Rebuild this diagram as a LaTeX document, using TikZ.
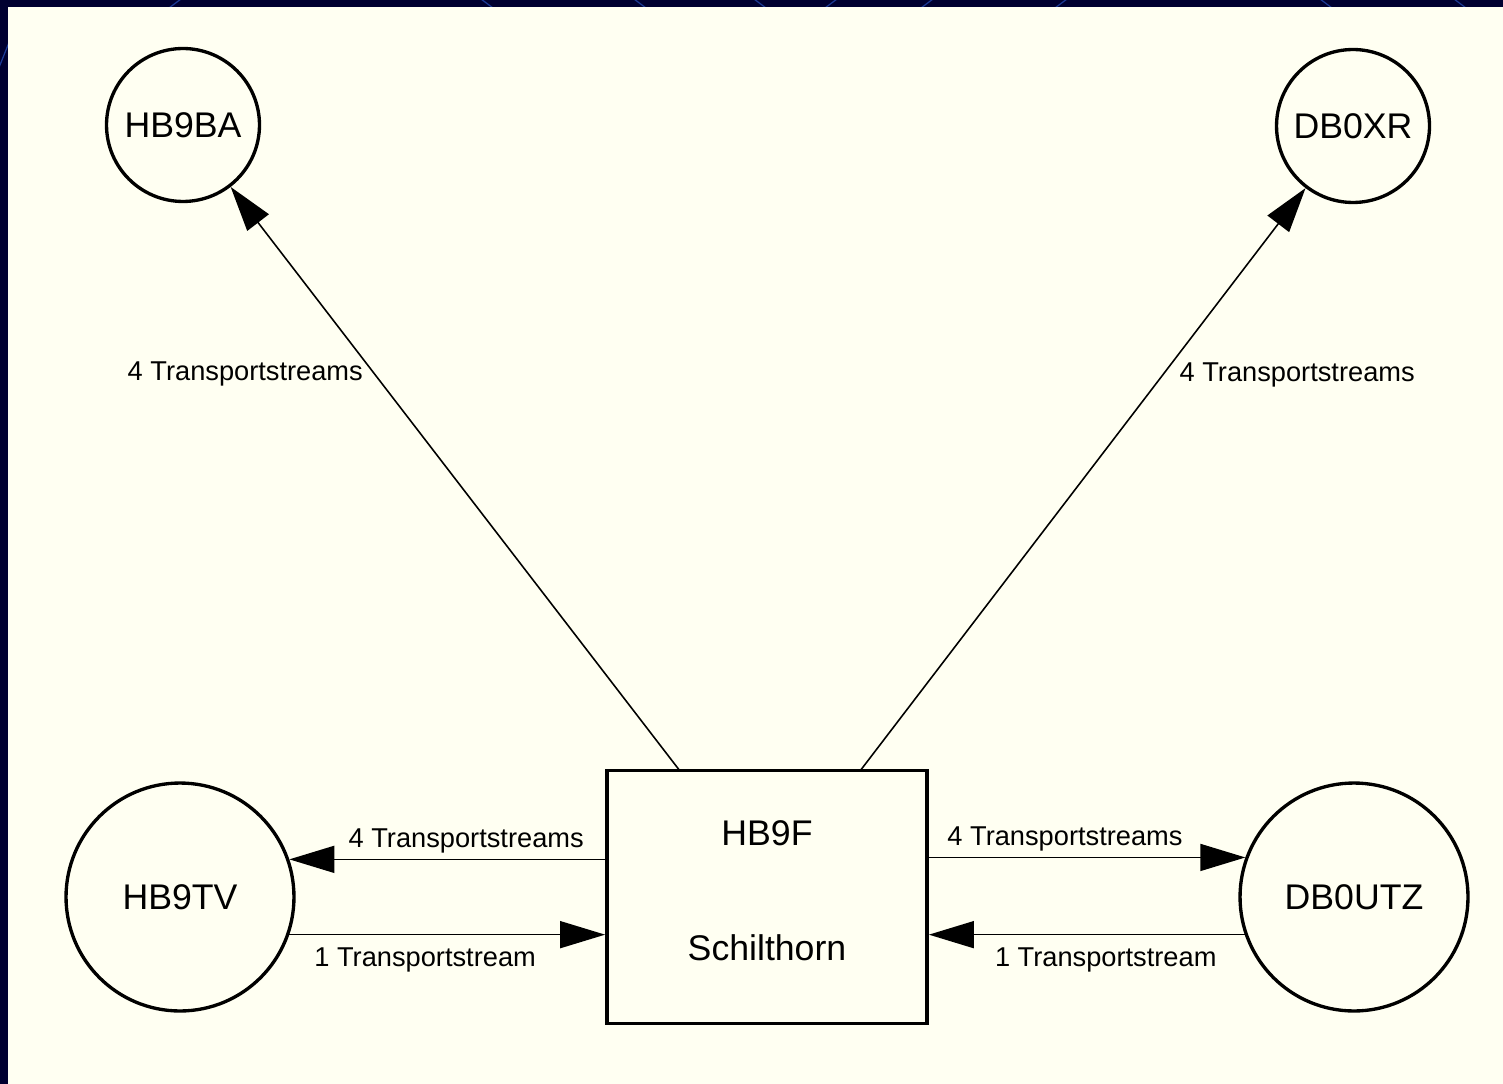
\documentclass[tikz,border=0pt]{standalone}
\usepackage{fontspec}
\setmainfont{Liberation Sans}
\usetikzlibrary{arrows.meta}
\definecolor{navy}{RGB}{0,0,48}
\definecolor{cream}{RGB}{255,255,242}
\definecolor{deco}{RGB}{28,58,150}

\begin{document}
\begin{tikzpicture}[x=0.02cm,y=-0.02cm,
		station/.style={circle,draw,line width=1.9pt,inner sep=0pt,font=\fontsize{20.3}{24}\selectfont},
		hub/.style={draw,line width=2.2pt,align=center,minimum width=6.4cm,minimum height=5.06cm,font=\fontsize{20.3}{24}\selectfont},
		link/.style={line width=0.9pt,-{Triangle[length=0.9cm,width=0.54cm]}},
		lbl/.style={font=\fontsize{15.5}{18}\selectfont}]
			\useasboundingbox (0,0) rectangle (1503,1084);
			\fill[navy] (0,0) rectangle (1503,1084);
			\foreach \x/\d in {173/1,489/-1,642/-1,762/-1,829/1,925/1,1059/1,1328/-1,1462/-1}
			\draw[deco,line width=0.7pt] (\x-\d*12,14) -- (\x+\d*12,-4);
			\draw[deco,line width=0.7pt] (-2,70) -- (10,40);
			\fill[cream] (8,7) rectangle (1503,1084);

			\node[station,minimum size=3.06cm] (ba) at (183,125) {HB9BA};
			\node[station,minimum size=3.06cm] (xr) at (1353,126) {DB0XR};
			\node[station,minimum size=4.56cm] (tv) at (180,897) {HB9TV};
			\node[station,minimum size=4.56cm] (utz) at (1354,897) {DB0UTZ};
			\node[hub] (f) at (767,897) {HB9F\\[1.45cm]Schilthorn\strut};

			\coordinate (fl) at (680,771);
			\coordinate (fr) at (860,771);

			\draw[link] (fl) -- node[lbl,pos=0.68,left=1mm]{4 Transportstreams} (ba);
			\draw[link] (fr) -- node[lbl,pos=0.68,right=2mm]{4 Transportstreams} (xr);

			\draw[link] (f.west |- tv.19.6) -- node[lbl,above,pos=0.44]{4 Transportstreams} (tv.19.6);
			\draw[link] (tv.-19.1) -- node[lbl,below=1.2mm,pos=0.43]{1 Transportstream} (f.west |- tv.-19.1);
			\draw[link] (f.east |- utz.160.4) -- node[lbl,above,pos=0.43]{4 Transportstreams} (utz.160.4);
			\draw[link] (utz.199.1) -- node[lbl,below=1.2mm,pos=0.44]{1 Transportstream} (f.east |- utz.199.1);
		\end{tikzpicture}
\end{document}
